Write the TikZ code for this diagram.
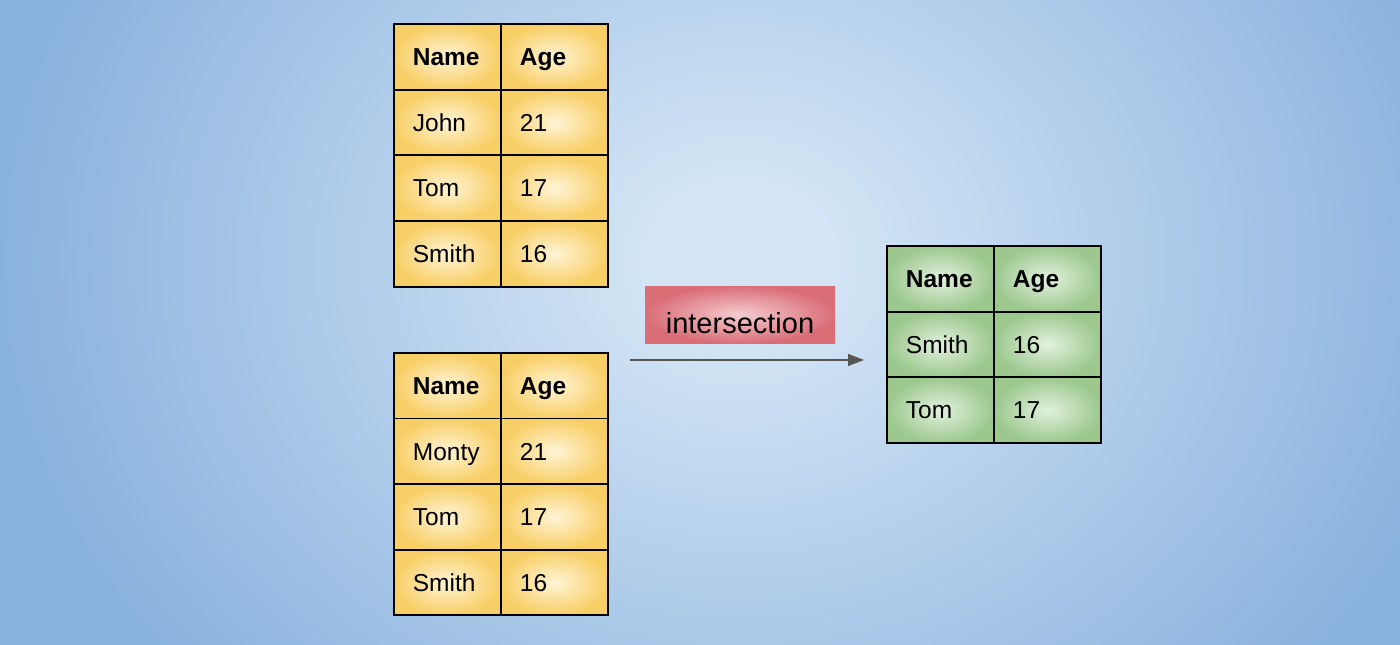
\documentclass[tikz,border=0pt]{standalone}
\usepackage{fontspec}
\setmainfont{Liberation Sans}
\usetikzlibrary{arrows.meta}
\definecolor{bgin}{HTML}{D3E5F5}
\definecolor{bgout}{HTML}{8AB2DE}
\definecolor{yin}{HTML}{FFF4D6}
\definecolor{yout}{HTML}{F8CF66}
\definecolor{gin}{HTML}{E2F1DE}
\definecolor{gout}{HTML}{9CC88E}
\definecolor{rin}{HTML}{F4CCD0}
\definecolor{rout}{HTML}{DA6E77}
\definecolor{arrowgray}{HTML}{555555}
\pgfdeclareradialshading{bgshade}{\pgfpoint{0bp}{0bp}}{color(0bp)=(bgin); color(3bp)=(bgin); color(25bp)=(bgout); color(50bp)=(bgout)}
\tikzset{
  cell/.style={draw=black, line width=1.8pt, minimum width=107pt, minimum height=65.6pt,
    inner xsep=19pt, inner ysep=0pt, text width=69pt, align=left,
    text height=17.5pt, text depth=0pt, font=\fontsize{24.5}{29}\selectfont,
    anchor=north west, shading=radial},
  ycell/.style={cell, inner color=yin, outer color=yout},
  gcell/.style={cell, inner color=gin, outer color=gout},
  opbox/.style={shading=radial, inner color=rin, outer color=rout, minimum width=190pt,
    minimum height=57pt, inner sep=0pt, text height=37pt, text depth=0pt,
    font=\fontsize{29}{34}\selectfont},
  flow/.style={draw=arrowgray, line width=1.5pt, -{Triangle[length=16pt,width=12pt]}}
}
\begin{document}
\begin{tikzpicture}[x=1pt,y=-1pt]
\useasboundingbox (0,0) rectangle (1400,645);
\begin{scope}
\clip (0,0) rectangle (1400,645);
\shade[shading=bgshade] (0,-362) rectangle (1480,882);
\end{scope}
% table A
\foreach [count=\i from 0] \n/\a in {{\textbf{Name}}/{\textbf{Age}}, John/21, Tom/17, Smith/16} {
  \node[ycell] (a\i n) at (393,{23+\i*65.75}) {\n};
  \node[ycell] (a\i a) at (500,{23+\i*65.75}) {\a};
}
% table B
\foreach [count=\i from 0] \n/\a in {{\textbf{Name}}/{\textbf{Age}}, Monty/21, Tom/17, Smith/16} {
  \node[ycell] (b\i n) at (393,{352+\i*65.6}) {\n};
  \node[ycell] (b\i a) at (500,{352+\i*65.6}) {\a};
}
% result table
\foreach [count=\i from 0] \n/\a in {{\textbf{Name}}/{\textbf{Age}}, Smith/16, Tom/17} {
  \node[gcell] (c\i n) at (886,{245+\i*65.7}) {\n};
  \node[gcell] (c\i a) at (993,{245+\i*65.7}) {\a};
}
% operation
\node[opbox] (op) at (740,314.5) {intersection};
\coordinate (arrS) at (630,360);
\coordinate (arrE) at (864,360);
\draw[flow] (arrS) -- (arrE);
\end{tikzpicture}
\end{document}
